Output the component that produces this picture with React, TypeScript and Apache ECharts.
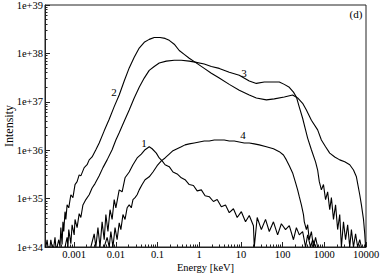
import React, { useEffect, useRef } from "react";
import * as echarts from "echarts";

// Axis ticks (log10 exponents) and their labels
const xTickExponents = [-3, -2, -1, 0, 1, 2, 3, 4];
const xTickLabels = ["0.001", "0.01", "0.1", "1", "10", "100", "1000", "10000"];
const yTickExponents = [34, 35, 36, 37, 38, 39];
const yTickLabels = ["1e+34", "1e+35", "1e+36", "1e+37", "1e+38", "1e+39"];

const curveNames = ["1", "2", "3", "4"];

// Curve 1: log10(Energy [keV]) and log10(Intensity)
const curve1LogE = [-2.60, -2.52, -2.48, -2.43, -2.38, -2.33, -2.28, -2.24, -2.19, -2.14, -2.09, -2.04, -2.00, -1.92, -1.85, -1.78, -1.68, -1.59, -1.49, -1.39, -1.30, -1.20, -1.13, -1.03, -0.96, -0.89, -0.82, -0.72, -0.63, -0.53, -0.43, -0.34, -0.24, -0.14, -0.05, 0.05, 0.14, 0.24, 0.34, 0.43, 0.53, 0.63, 0.72, 0.82, 0.91, 1.01, 1.11, 1.20, 1.30, 1.32, 1.39, 1.49, 1.59, 1.68, 1.78, 1.88, 1.97, 2.07, 2.16, 2.26, 2.33, 2.40, 2.48, 2.55, 2.60, 2.67, 2.72, 2.79];
const curve1LogI = [34.00, 34.27, 34.00, 34.40, 34.00, 34.52, 34.15, 34.67, 34.32, 34.77, 34.57, 34.98, 34.81, 35.18, 35.14, 35.43, 35.55, 35.70, 35.84, 35.92, 36.01, 36.07, 36.03, 35.94, 35.84, 35.78, 35.70, 35.66, 35.55, 35.51, 35.43, 35.39, 35.29, 35.27, 35.16, 35.18, 35.06, 35.04, 34.94, 34.98, 34.83, 34.87, 34.71, 34.79, 34.61, 34.73, 34.52, 34.65, 34.44, 34.00, 34.61, 34.36, 34.57, 34.32, 34.52, 34.25, 34.48, 34.36, 34.44, 34.15, 34.40, 34.25, 34.32, 34.00, 34.25, 34.00, 34.15, 34.00];

// Curve 2
const curve2LogE = [-3.70, -3.68, -3.65, -3.63, -3.58, -3.56, -3.53, -3.49, -3.46, -3.44, -3.41, -3.37, -3.34, -3.32, -3.29, -3.27, -3.25, -3.22, -3.20, -3.17, -3.13, -3.08, -3.03, -2.98, -2.93, -2.88, -2.84, -2.76, -2.69, -2.64, -2.57, -2.48, -2.40, -2.28, -2.16, -2.04, -1.92, -1.80, -1.68, -1.56, -1.44, -1.32, -1.20, -1.08, -0.94, -0.82, -0.72, -0.60, -0.48, -0.36, -0.24, -0.10, 0.12, 0.29, 0.48, 0.72, 0.96, 1.20, 1.37, 1.61, 1.80, 2.04, 2.24, 2.36, 2.48, 2.57, 2.69, 2.84, 2.93, 3.03, 3.13, 3.25, 3.37, 3.49, 3.61, 3.70, 3.77, 3.85, 3.89, 3.94, 3.97, 3.99];
const curve2LogI = [34.00, 34.00, 34.15, 34.00, 34.00, 34.15, 34.00, 34.00, 34.20, 34.00, 34.00, 34.15, 34.00, 34.40, 34.05, 34.52, 34.32, 34.73, 34.57, 34.87, 34.81, 35.08, 35.02, 35.29, 35.35, 35.49, 35.47, 35.64, 35.70, 35.80, 35.86, 36.01, 36.15, 36.40, 36.64, 36.90, 37.14, 37.43, 37.70, 37.92, 38.11, 38.23, 38.29, 38.33, 38.33, 38.31, 38.27, 38.19, 38.06, 37.98, 37.90, 37.82, 37.69, 37.59, 37.49, 37.36, 37.24, 37.14, 37.08, 37.04, 37.06, 37.10, 37.14, 37.08, 36.97, 36.83, 36.62, 36.42, 36.21, 36.07, 35.94, 35.86, 35.80, 35.76, 35.70, 35.59, 35.45, 35.08, 34.87, 34.57, 34.27, 34.00];

// Curve 3
const curve3LogE = [-3.22, -3.17, -3.15, -3.13, -3.08, -3.05, -3.00, -2.98, -2.93, -2.88, -2.84, -2.79, -2.72, -2.64, -2.57, -2.50, -2.40, -2.31, -2.21, -2.09, -2.00, -1.92, -1.80, -1.68, -1.56, -1.44, -1.32, -1.20, -1.08, -0.96, -0.79, -0.60, -0.43, -0.24, -0.10, 0.12, 0.29, 0.48, 0.72, 0.96, 1.20, 1.37, 1.56, 1.80, 1.92, 2.04, 2.16, 2.26, 2.33, 2.40, 2.48, 2.55, 2.60, 2.69, 2.79, 2.84, 2.88, 2.93, 2.98, 3.03, 3.08, 3.13, 3.17, 3.22, 3.27, 3.32, 3.37, 3.41, 3.46, 3.51, 3.56, 3.61, 3.65, 3.70, 3.75, 3.80, 3.85, 3.89];
const curve3LogI = [34.00, 34.20, 34.00, 34.36, 34.07, 34.46, 34.25, 34.57, 34.40, 34.69, 34.61, 34.87, 34.98, 35.08, 35.22, 35.31, 35.47, 35.64, 35.80, 36.01, 36.21, 36.36, 36.60, 36.83, 37.08, 37.30, 37.49, 37.65, 37.73, 37.80, 37.84, 37.86, 37.86, 37.84, 37.82, 37.78, 37.73, 37.69, 37.61, 37.55, 37.43, 37.38, 37.41, 37.41, 37.41, 37.36, 37.30, 37.20, 37.10, 36.89, 36.66, 36.42, 36.25, 36.01, 35.76, 35.59, 35.35, 35.18, 35.29, 34.98, 35.14, 34.77, 35.02, 34.57, 34.87, 34.36, 34.67, 34.00, 34.52, 34.15, 34.46, 34.00, 34.36, 34.00, 34.27, 34.00, 34.15, 34.00];

// Curve 4
const curve4LogE = [-2.28, -2.21, -2.16, -2.12, -2.07, -2.02, -1.97, -1.92, -1.88, -1.83, -1.78, -1.73, -1.68, -1.63, -1.59, -1.54, -1.49, -1.44, -1.37, -1.30, -1.20, -1.11, -1.01, -0.91, -0.82, -0.72, -0.63, -0.53, -0.43, -0.34, -0.24, -0.12, 0.00, 0.12, 0.24, 0.36, 0.48, 0.60, 0.72, 0.84, 0.96, 1.08, 1.20, 1.32, 1.44, 1.61, 1.78, 1.92, 2.02, 2.09, 2.16, 2.24, 2.31, 2.36, 2.40, 2.45, 2.50, 2.52, 2.57, 2.60, 2.64, 2.69, 2.74, 2.79, 2.84];
const curve4LogI = [34.00, 34.20, 34.00, 34.32, 34.00, 34.40, 34.15, 34.50, 34.36, 34.67, 34.57, 34.81, 34.87, 34.81, 34.98, 35.02, 35.08, 35.18, 35.29, 35.39, 35.45, 35.55, 35.68, 35.78, 35.84, 35.92, 35.99, 36.03, 36.07, 36.11, 36.13, 36.15, 36.17, 36.19, 36.19, 36.21, 36.21, 36.21, 36.19, 36.19, 36.17, 36.15, 36.15, 36.13, 36.11, 36.07, 36.03, 35.97, 35.90, 35.80, 35.68, 35.53, 35.33, 35.18, 35.04, 34.87, 34.67, 34.52, 34.36, 34.46, 34.15, 34.32, 34.00, 34.20, 34.00];

const curvesLogE = [curve1LogE, curve2LogE, curve3LogE, curve4LogE];
const curvesLogI = [curve1LogI, curve2LogI, curve3LogI, curve4LogI];

export default function App() {
  const ref = useRef<HTMLDivElement>(null);

  useEffect(() => {
    if (!ref.current) return;
    const chart = echarts.init(ref.current, null, { renderer: "svg" });
    const font = "Liberation Serif, serif";

    const minorDigits = [2, 3, 4, 5, 6, 7, 8, 9];
    const xMinor: number[] = [];
    for (let n = -4; n < 4; n++) {
      for (const k of minorDigits) {
        const v = n + Math.log10(k);
        if (v >= -3.7 && v <= 4) xMinor.push(v);
      }
    }
    const yMinor: number[] = [];
    for (let n = 34; n < 39; n++) {
      for (const k of minorDigits) yMinor.push(n + Math.log10(k));
    }

    const series = curveNames.map((name, idx) => ({
      name,
      type: "line",
      xAxisIndex: 0,
      yAxisIndex: 0,
      data: curvesLogE[idx].map((e, k) => [e, curvesLogI[idx][k]]),
      showSymbol: false,
      symbol: "none",
      clip: true,
      lineStyle: { color: "#000", width: 1.1 },
    }));

    const labelText = (text: string, x: number, y: number) => ({
      type: "text",
      x,
      y,
      style: { text, fontFamily: font, fontSize: 11, fill: "#000", align: "center", verticalAlign: "middle" },
    });

    chart.setOption({
      animation: false,
      backgroundColor: "#fff",
      grid: {
        left: 45,
        top: 5,
        right: 16,
        bottom: 26,
        outerBoundsMode: "none",
        containLabel: false,
        show: true,
        borderColor: "#222",
        borderWidth: 1,
        backgroundColor: "transparent",
      },
      xAxis: [
        {
          type: "value",
          min: -3.7,
          max: 4,
          position: "bottom",
          splitLine: { show: false },
          axisLine: { show: true, onZero: false, lineStyle: { color: "#222", width: 1 } },
          axisTick: { show: true, inside: true, length: 5, customValues: xTickExponents, lineStyle: { color: "#222" } },
          axisLabel: {
            customValues: xTickExponents,
            formatter: (v: number) => xTickLabels[xTickExponents.indexOf(Math.round(v))],
            fontFamily: font,
            fontSize: 10.5,
            color: "#000",
            margin: 2,
          },
          name: "Energy [keV]",
          nameLocation: "middle",
          nameGap: 15,
          nameMoveOverlap: false,
          nameTextStyle: { fontFamily: font, fontSize: 10.5, color: "#000", verticalAlign: "top" },
        },
        {
          type: "value",
          min: -3.7,
          max: 4,
          position: "bottom",
          splitLine: { show: false },
          axisLine: { show: false, onZero: false },
          axisLabel: { show: false },
          axisTick: { show: true, inside: true, length: 2.5, customValues: xMinor, lineStyle: { color: "#222" } },
        },
      ],
      yAxis: [
        {
          type: "value",
          min: 34,
          max: 39,
          position: "left",
          splitLine: { show: false },
          axisLine: { show: true, onZero: false, lineStyle: { color: "#222", width: 1 } },
          axisTick: { show: true, inside: true, length: 5, customValues: yTickExponents, lineStyle: { color: "#222" } },
          axisLabel: {
            customValues: yTickExponents,
            formatter: (v: number) => yTickLabels[yTickExponents.indexOf(Math.round(v))],
            fontFamily: font,
            fontSize: 10.5,
            color: "#000",
            margin: 2,
          },
          name: "Intensity",
          nameLocation: "middle",
          nameGap: 30,
          nameMoveOverlap: false,
          nameRotate: 90,
          nameTextStyle: { fontFamily: font, fontSize: 12, color: "#000" },
        },
        {
          type: "value",
          min: 34,
          max: 39,
          position: "left",
          splitLine: { show: false },
          axisLine: { show: false, onZero: false },
          axisLabel: { show: false },
          axisTick: { show: true, inside: true, length: 2.5, customValues: yMinor, lineStyle: { color: "#222" } },
        },
      ],
      graphic: [
        labelText(curveNames[0], 144, 143),
        labelText(curveNames[1], 114, 92),
        labelText(curveNames[2], 244, 73),
        labelText(curveNames[3], 243, 135),
        labelText("(d)", 356, 14),
      ],
      series,
    });

    return () => chart.dispose();
  }, []);

  return <div ref={ref} style={{ position: "fixed", left: 0, top: 0, width: 382, height: 273 }} />;
}
